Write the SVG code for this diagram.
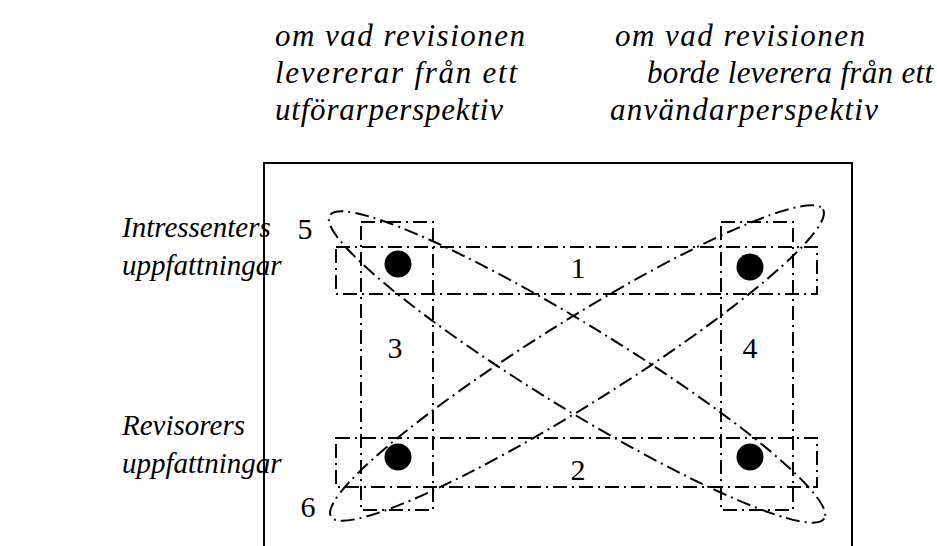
<svg xmlns="http://www.w3.org/2000/svg" width="937" height="546" viewBox="0 0 937 546">
<style>
.t{font-family:"Liberation Serif","Times New Roman",serif;font-size:29px;font-style:italic;fill:#000}
.h{font-family:"Liberation Serif","Times New Roman",serif;font-size:31px;font-style:italic;fill:#000}
.n{font-family:"Liberation Serif","Times New Roman",serif;font-size:30px;fill:#000;text-anchor:middle}
.dd{fill:none;stroke:#000;stroke-width:2;stroke-dasharray:14 5 2 5}
.frame{fill:none;stroke:#000;stroke-width:2}
</style>
<rect width="937" height="546" fill="#fff"/>
<g id="col-headers">
<text class="h" x="275" y="46" textLength="250" lengthAdjust="spacing">om vad revisionen</text>
<text class="h" x="275" y="83" textLength="242" lengthAdjust="spacing">levererar från ett</text>
<text class="h" x="275" y="120" textLength="228" lengthAdjust="spacing">utförarperspektiv</text>
<text class="h" x="615" y="46" textLength="250" lengthAdjust="spacing">om vad revisionen</text>
<text class="h" x="647" y="83" textLength="286" lengthAdjust="spacing">borde leverera från ett</text>
<text class="h" x="610" y="120" textLength="268" lengthAdjust="spacing">användarperspektiv</text>
</g>
<g id="row-labels">
<text class="t" x="122" y="237">Intressenters</text>
<text class="t" x="122" y="275">uppfattningar</text>
<text class="t" x="122" y="435">Revisorers</text>
<text class="t" x="122" y="473">uppfattningar</text>
</g>
<g id="frame">
<path class="frame" d="M264,546 V163 H852 V546"/>
</g>
<g id="areas">
<rect id="area1" class="dd" x="336" y="247" width="481" height="47"/>
<rect id="area2" class="dd" x="336" y="438" width="481" height="49"/>
<rect id="area3" class="dd" x="361" y="222" width="72" height="288"/>
<rect id="area4" class="dd" x="721" y="222" width="72" height="288"/>
<ellipse id="area5" class="dd" cx="577" cy="367" rx="290" ry="42" transform="rotate(31.5 577 367)"/>
<ellipse id="area6" class="dd" cx="577" cy="363" rx="290" ry="42" transform="rotate(-32 577 363)"/>
</g>
<g id="dots">
<circle cx="398" cy="264" r="13.5"/>
<circle cx="750" cy="267" r="13.5"/>
<circle cx="398" cy="457" r="13.5"/>
<circle cx="750" cy="457" r="13.5"/>
</g>
<g id="numbers">
<text class="n" x="578" y="278">1</text>
<text class="n" x="578" y="480">2</text>
<text class="n" x="395" y="358">3</text>
<text class="n" x="750" y="358">4</text>
<text class="n" x="305" y="239">5</text>
<text class="n" x="308" y="517">6</text>
</g>
</svg>
